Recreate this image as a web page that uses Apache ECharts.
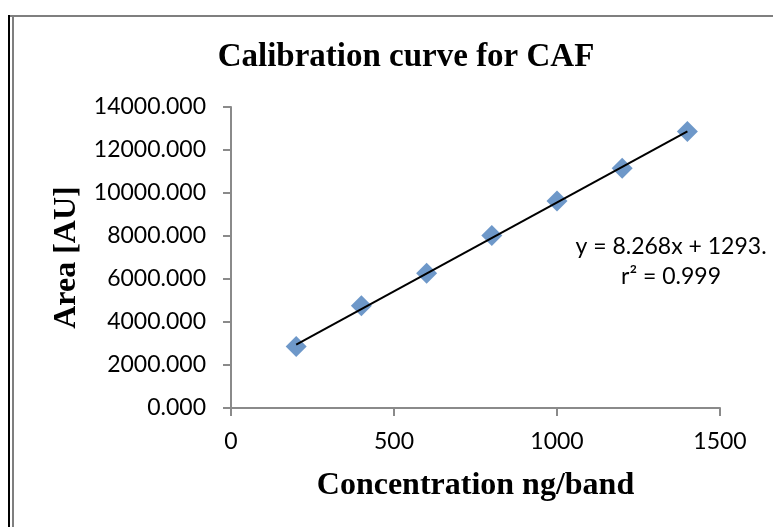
<!DOCTYPE html>
<html>
<head>
<meta charset="utf-8">
<title>Calibration curve for CAF</title>
<script src="https://cdn.jsdelivr.net/npm/echarts@6/dist/echarts.min.js"></script>
<style>
  html, body { margin: 0; padding: 0; background: #fff; }
  #chart { width: 773px; height: 527px; }
</style>
</head>
<body>
<div id="chart"></div>
<script>
// concentration (ng/band) and measured peak area
var concentration = [200, 400, 600, 800, 1000, 1200, 1400]
var area = [2865, 4760, 6270, 8025, 9625, 11150, 12860]
// trendline ends, as drawn on the original
var trendX = [200, 1400]
var trendY = [2950, 12868]
var equationLines = ['y = 8.268x + 1293.', 'r\u00b2 = 0.999']

var chart = echarts.init(document.getElementById('chart'))

var labelFont = 'Lato, "Open Sans", sans-serif'
var serifFont = '"Liberation Serif", "Times New Roman", serif'
var axisGray = '#8a8a8a'

chart.setOption({
    animation: false,
    title: {
        text: 'Calibration curve for CAF',
        left: 401,
        top: 36,
        textAlign: 'center',
        textStyle: {
            fontFamily: serifFont,
            fontWeight: 'bold',
            fontSize: 33,
            color: '#000'
        }
    },
    grid: {
        left: 231,
        right: 53,
        top: 107,
        bottom: 119
    },
    xAxis: {
        type: 'value',
        min: 0,
        max: 1500,
        interval: 500,
        name: 'Concentration ng/band',
        nameLocation: 'middle',
        nameGap: 62,
        nameTextStyle: {
            fontFamily: serifFont,
            fontWeight: 'bold',
            fontSize: 32,
            color: '#000'
        },
        splitLine: { show: false },
        axisLine: { lineStyle: { color: axisGray, width: 2 } },
        axisTick: { length: 8, lineStyle: { color: axisGray, width: 2 } },
        axisLabel: {
            margin: 22,
            fontFamily: labelFont,
            fontSize: 23,
            color: '#000',
            formatter: function (v) { return String(v) }
        }
    },
    yAxis: {
        type: 'value',
        min: 0,
        max: 14000,
        interval: 2000,
        name: 'Area [AU]',
        nameLocation: 'middle',
        nameGap: 147,
        nameTextStyle: {
            fontFamily: serifFont,
            fontWeight: 'bold',
            fontSize: 32,
            color: '#000'
        },
        splitLine: { show: false },
        axisLine: { show: true, lineStyle: { color: axisGray, width: 2 } },
        axisTick: { show: true, length: 8, lineStyle: { color: axisGray, width: 2 } },
        axisLabel: {
            margin: 25,
            fontFamily: labelFont,
            fontSize: 23,
            color: '#000',
            formatter: function (v) { return v.toFixed(3) }
        }
    },
    series: [
        {
            name: 'Area',
            type: 'scatter',
            symbol: 'diamond',
            symbolSize: 21,
            itemStyle: { color: '#4a7ebb' },
            data: concentration.map(function (c, i) { return [c, area[i]] }),
            z: 3
        },
        {
            name: 'Linear trend',
            type: 'line',
            symbol: 'none',
            lineStyle: { color: '#000', width: 2 },
            data: trendX.map(function (c, i) { return [c, trendY[i]] }),
            z: 4
        }
    ],
    graphic: [
        // frame around the chart area
        { type: 'line', shape: { x1: 9, y1: 15, x2: 9, y2: 527 }, style: { stroke: '#000', lineWidth: 2 } },
        { type: 'line', shape: { x1: 10, y1: 16, x2: 773, y2: 16 }, style: { stroke: '#7f7f7f', lineWidth: 2 } },
        { type: 'line', shape: { x1: 13, y1: 16, x2: 13, y2: 527 }, style: { stroke: '#7f7f7f', lineWidth: 2 } },
        {
            type: 'text',
            x: 671,
            y: 232,
            style: {
                text: equationLines.join('\n'),
                align: 'center',
                font: '23px ' + labelFont,
                lineHeight: 30,
                fill: '#000'
            }
        }
    ]
})
</script>
</body>
</html>
